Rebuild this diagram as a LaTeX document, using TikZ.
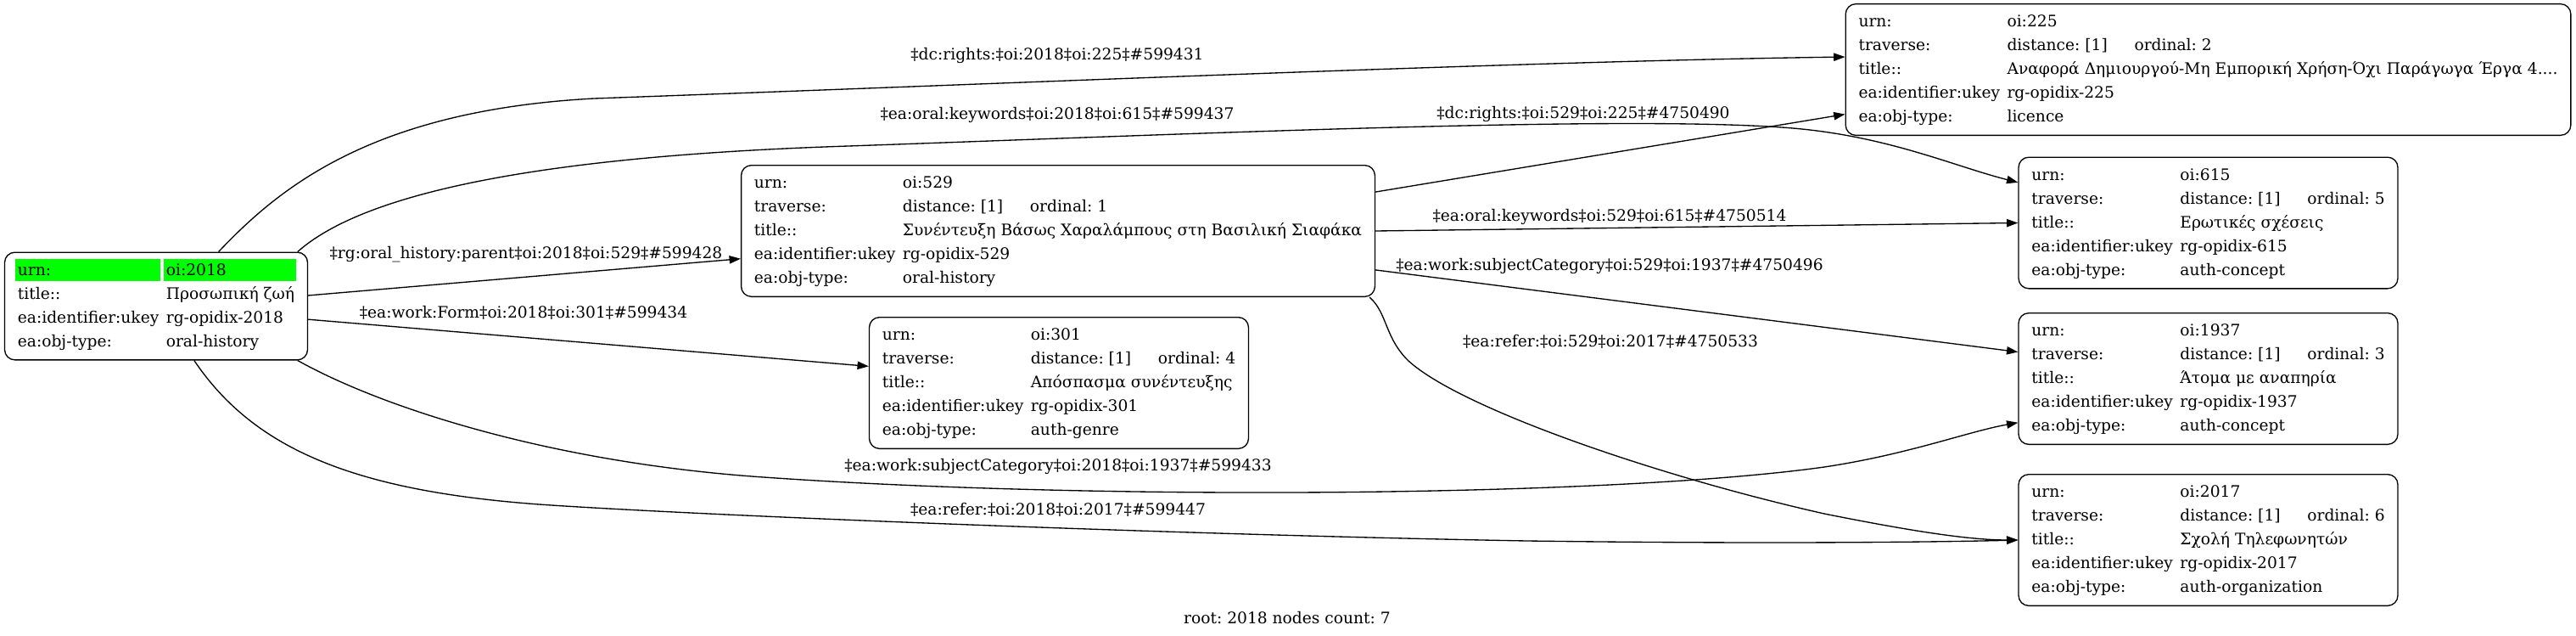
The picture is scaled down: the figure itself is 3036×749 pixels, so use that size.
\documentclass[tikz,border=0pt]{standalone}
\usepackage{fontspec}
\setmainfont{DejaVu Serif}
\usetikzlibrary{arrows.meta,calc,backgrounds}
\frenchspacing

\definecolor{hlgreen}{RGB}{0,255,0}
\newcommand{\recfont}{\fontsize{14}{21}\selectfont}
\newcommand{\trav}[1]{\makebox[112.5pt][l]{distance: [1]}ordinal: #1}
\newenvironment{rectab}{\begin{tabular}{@{}p{131.25pt}@{}l@{}}}{\end{tabular}}

\begin{document}
\begin{tikzpicture}[x=0.75pt,y=-0.75pt,
  rec/.style={draw, line width=1pt, rounded corners=9pt, inner xsep=11.5pt, inner ysep=5.5pt, font=\recfont},
  lbl/.style={inner sep=1pt, font=\fontsize{14}{17}\selectfont},
  rel/.style={line width=1pt, -{Triangle[length=10pt,width=7pt]}}]
		\useasboundingbox (0,0) rectangle (3036,749);

		% records
		\node[rec] (oi2018) at (184,360.5) {\begin{rectab}
			urn: & oi:2018\\
			title:: & Προσωπική ζωή\\
			ea:identifier:ukey & rg-opidix-2018\\
			ea:obj-type: & oral-history
		\end{rectab}};
		\node[rec] (oi529) at (1247,272) {\begin{rectab}
			urn: & oi:529\\
			traverse: & \trav{1}\\
			title:: & Συνέντευξη Βάσως Χαραλάμπους στη Βασιλική Σιαφάκα\\
			ea:identifier:ukey & rg-opidix-529\\
			ea:obj-type: & oral-history
		\end{rectab}};
		\node[rec] (oi301) at (1248,451) {\begin{rectab}
			urn: & oi:301\\
			traverse: & \trav{4}\\
			title:: & Απόσπασμα συνέντευξης\\
			ea:identifier:ukey & rg-opidix-301\\
			ea:obj-type: & auth-genre
		\end{rectab}};
		\node[rec] (oi225) at (2602.5,82) {\begin{rectab}
			urn: & oi:225\\
			traverse: & \trav{2}\\
			title:: & Αναφορά Δημιουργού-Μη Εμπορική Χρήση-Όχι Παράγωγα Έργα 4....\\
			ea:identifier:ukey & rg-opidix-225\\
			ea:obj-type: & licence
		\end{rectab}};
		\node[rec] (oi615) at (2602.5,262.5) {\begin{rectab}
			urn: & oi:615\\
			traverse: & \trav{5}\\
			title:: & Ερωτικές σχέσεις\\
			ea:identifier:ukey & rg-opidix-615\\
			ea:obj-type: & auth-concept
		\end{rectab}};
		\node[rec] (oi1937) at (2602.5,446) {\begin{rectab}
			urn: & oi:1937\\
			traverse: & \trav{3}\\
			title:: & Άτομα με αναπηρία\\
			ea:identifier:ukey & rg-opidix-1937\\
			ea:obj-type: & auth-concept
		\end{rectab}};
		\node[rec] (oi2017) at (2602.5,636) {\begin{rectab}
			urn: & oi:2017\\
			traverse: & \trav{6}\\
			title:: & Σχολή Τηλεφωνητών\\
			ea:identifier:ukey & rg-opidix-2017\\
			ea:obj-type: & auth-organization
		\end{rectab}};

		% root row highlight
		\begin{scope}[on background layer]
			\fill[hlgreen] ($(oi2018.north west)+(13,8)$) rectangle ($(oi2018.north west)+(184,34)$);
			\fill[hlgreen] ($(oi2018.north west)+(188,8)$) rectangle ($(oi2018.north east)+(-14,34)$);
		\end{scope}

		% edges from 2018
		\draw[rel] (oi2018.41) .. controls (330,220) and (440,130) .. (700,116) .. controls (1200,98) and (1800,72) .. (oi225.178);
		\draw[rel] (oi2018.21) .. controls (420,235) and (600,185) .. (1000,172) .. controls (1400,158) and (1900,136) .. (2100,150) .. controls (2220,158) and (2300,195) .. (oi615.168);
		\draw[rel] (oi2018.4) -- (oi529.185);
		\draw[rel] (oi2018.-5) -- (oi301.175);
		\draw[rel] (oi2018.-21) .. controls (450,480) and (650,545) .. (900,562) .. controls (1300,590) and (1900,585) .. (2150,550) .. controls (2250,535) and (2320,508) .. (oi1937.193);
		\draw[rel] (oi2018.-55) .. controls (300,530) and (420,580) .. (650,595) .. controls (850,608) and (1400,630) .. (1800,637) .. controls (2100,641) and (2300,638) .. (oi2017.west);

		% edges from 529
		\draw[rel] (oi529.7) -- (oi225.187);
		\draw[rel] (oi529.east) -- (oi615.west);
		\draw[rel] (oi529.-7) -- (oi1937.172);
		\draw[rel] (oi529.-12) .. controls (1635,368) and (1632,398) .. (1660,425) .. controls (1720,480) and (1950,560) .. (2150,605) .. controls (2250,625) and (2320,636) .. (oi2017.west);

		% edge labels
		\node[lbl] (lab1) at (1246,65) {‡dc:rights:‡oi:2018‡oi:225‡\#599431};
		\node[lbl] (lab2) at (1246,135) {‡ea:oral:keywords‡oi:2018‡oi:615‡\#599437};
		\node[lbl] (lab3) at (620,300) {‡rg:oral\_history:parent‡oi:2018‡oi:529‡\#599428};
		\node[lbl] (lab4) at (617,368) {‡ea:work:Form‡oi:2018‡oi:301‡\#599434};
		\node[lbl] (lab5) at (1247,549) {‡ea:work:subjectCategory‡oi:2018‡oi:1937‡\#599433};
		\node[lbl] (lab6) at (1247,600) {‡ea:refer:‡oi:2018‡oi:2017‡\#599447};
		\node[lbl] (lab7) at (1866,134) {‡dc:rights:‡oi:529‡oi:225‡\#4750490};
		\node[lbl] (lab8) at (1897,255) {‡ea:oral:keywords‡oi:529‡oi:615‡\#4750514};
		\node[lbl] (lab9) at (1897,313) {‡ea:work:subjectCategory‡oi:529‡oi:1937‡\#4750496};
		\node[lbl] (lab10) at (1898,402) {‡ea:refer:‡oi:529‡oi:2017‡\#4750533};

		\node[lbl] (caption) at (1517,728) {root: 2018 nodes count: 7};
\end{tikzpicture}
\end{document}
